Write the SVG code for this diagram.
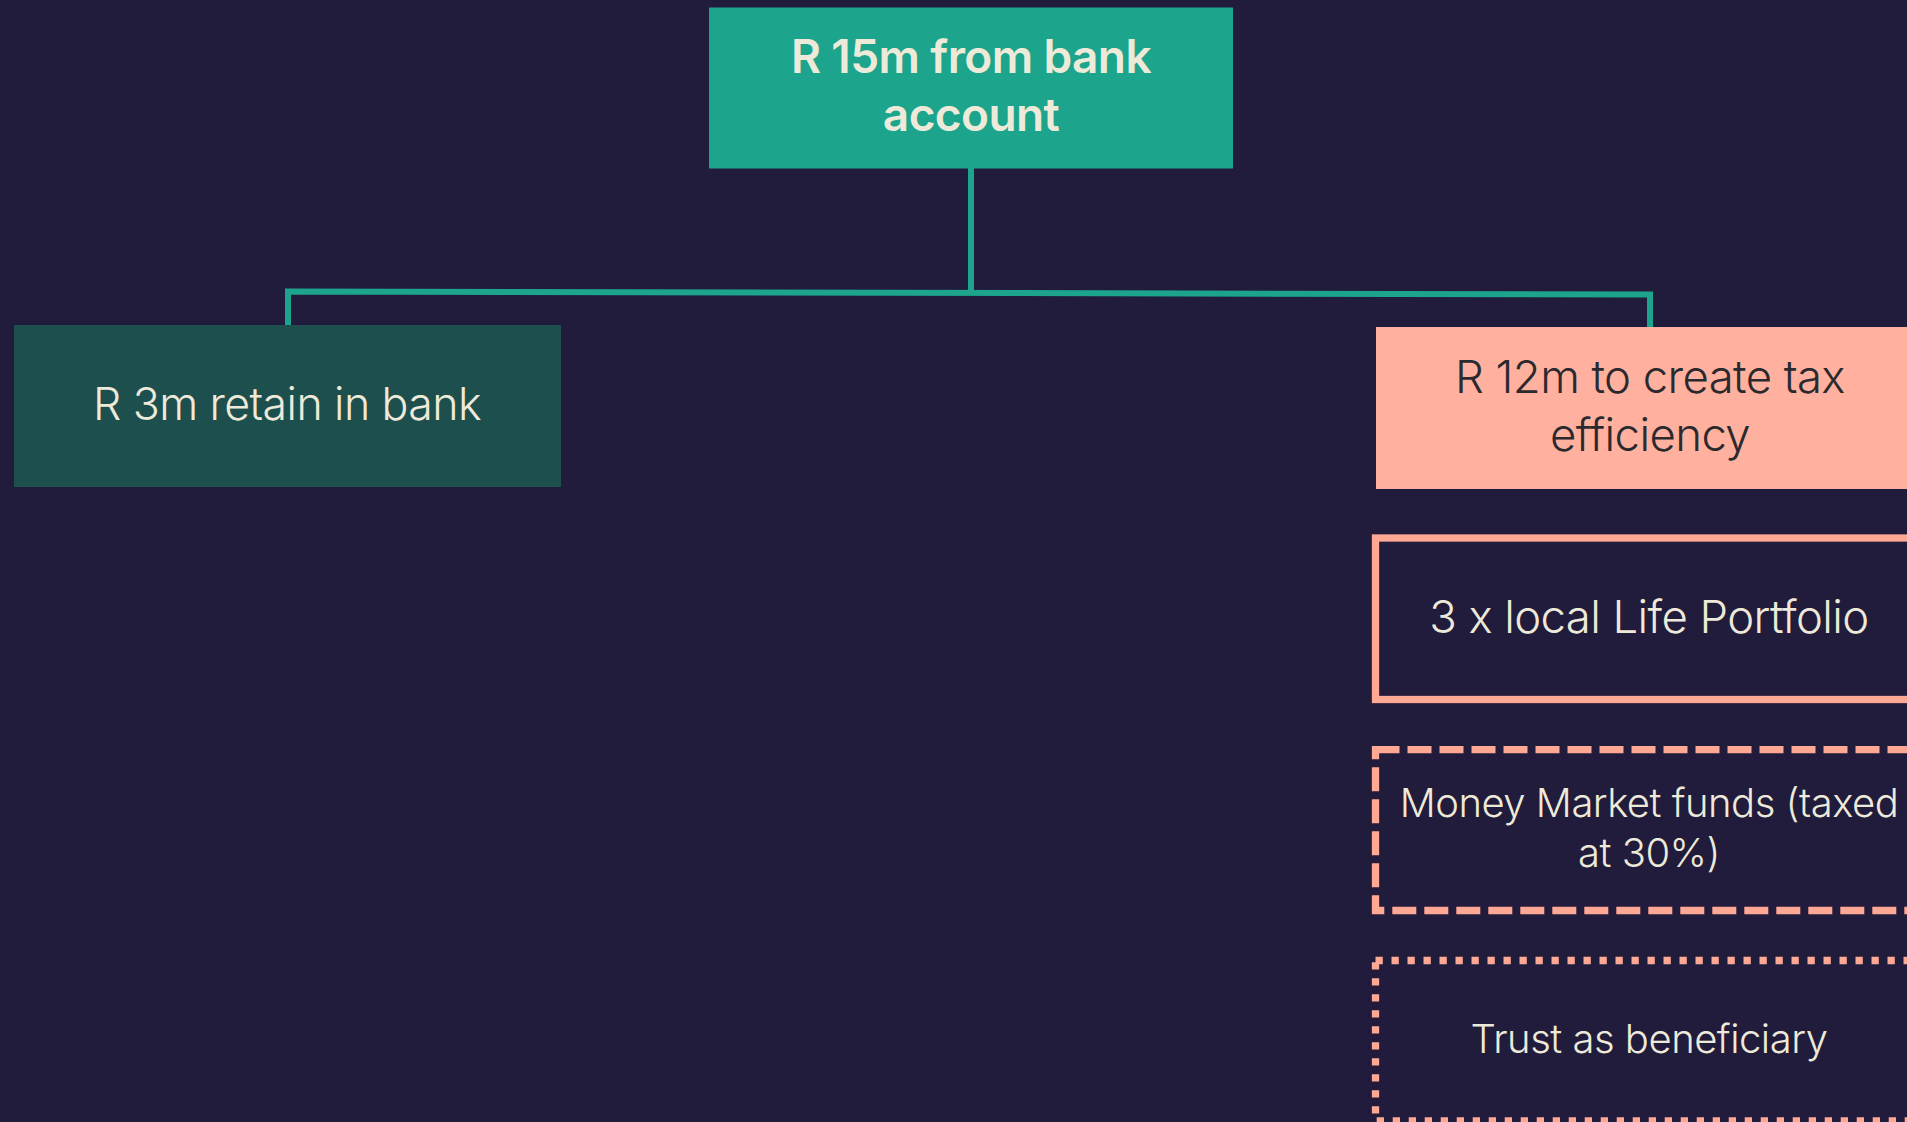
<svg xmlns="http://www.w3.org/2000/svg" width="1907" height="1122" viewBox="0 0 1907 1122">
  <style>
    .t { font-family: Inter, "Liberation Sans", sans-serif; text-anchor: middle; }
    .light { font-weight: 300; font-size: 45.5px; fill: #EEEAD9; letter-spacing: -0.6px; }
    .retain { font-size: 44.7px; }
    .small { font-weight: 300; font-size: 40px; fill: #EEEAD9; letter-spacing: -0.5px; }
    .bold { font-weight: 600; font-size: 46px; fill: #EEEAD9; letter-spacing: -0.6px; }
    .dark { font-weight: 300; font-size: 45.5px; fill: #2A2A2E; letter-spacing: -0.6px; }
    .outline { fill: none; stroke: #FFA894; stroke-width: 7.3; }
    .conn { fill: none; stroke: #1CA58C; stroke-width: 6; }
  </style>
  <rect x="0" y="0" width="1907" height="1122" fill="#211B3C"/>

  <g id="connectors">
    <line class="conn" x1="971" y1="168" x2="971" y2="293"/>
    <polyline class="conn" points="288,325 288,291.5 1650,294.5 1650,327"/>
  </g>

  <g id="node-top">
    <rect x="709" y="7.5" width="524" height="161" fill="#1CA58C"/>
    <text class="t bold" x="971" y="73">R 15m from bank</text>
    <text class="t bold" x="971" y="131">account</text>
  </g>

  <g id="node-retain">
    <rect x="14" y="325" width="547" height="162" fill="#1E4F4F"/>
    <text class="t light retain" x="287" y="420">R 3m retain in bank</text>
  </g>

  <g id="node-tax">
    <rect x="1376" y="327" width="548" height="162" fill="#FFB09F"/>
    <text class="t dark" x="1650" y="393">R 12m to create tax</text>
    <text class="t dark" x="1650" y="451">efficiency</text>
  </g>

  <g id="node-life">
    <rect class="outline" x="1375.5" y="538" width="548" height="161.5"/>
    <text class="t light" x="1649" y="633">3 x local Life Portfolio</text>
  </g>

  <g id="node-mm">
    <rect class="outline" x="1375.5" y="749.7" width="548" height="160.8" stroke-dasharray="24 8"/>
    <text class="t small" x="1649" y="817">Money Market funds (taxed</text>
    <text class="t small" x="1649" y="867">at 30%)</text>
  </g>

  <g id="node-trust">
    <rect class="outline" x="1375.5" y="960.5" width="548" height="160.5" stroke-dasharray="7.3 8.7"/>
    <text class="t small" x="1649" y="1053">Trust as beneficiary</text>
  </g>
</svg>
